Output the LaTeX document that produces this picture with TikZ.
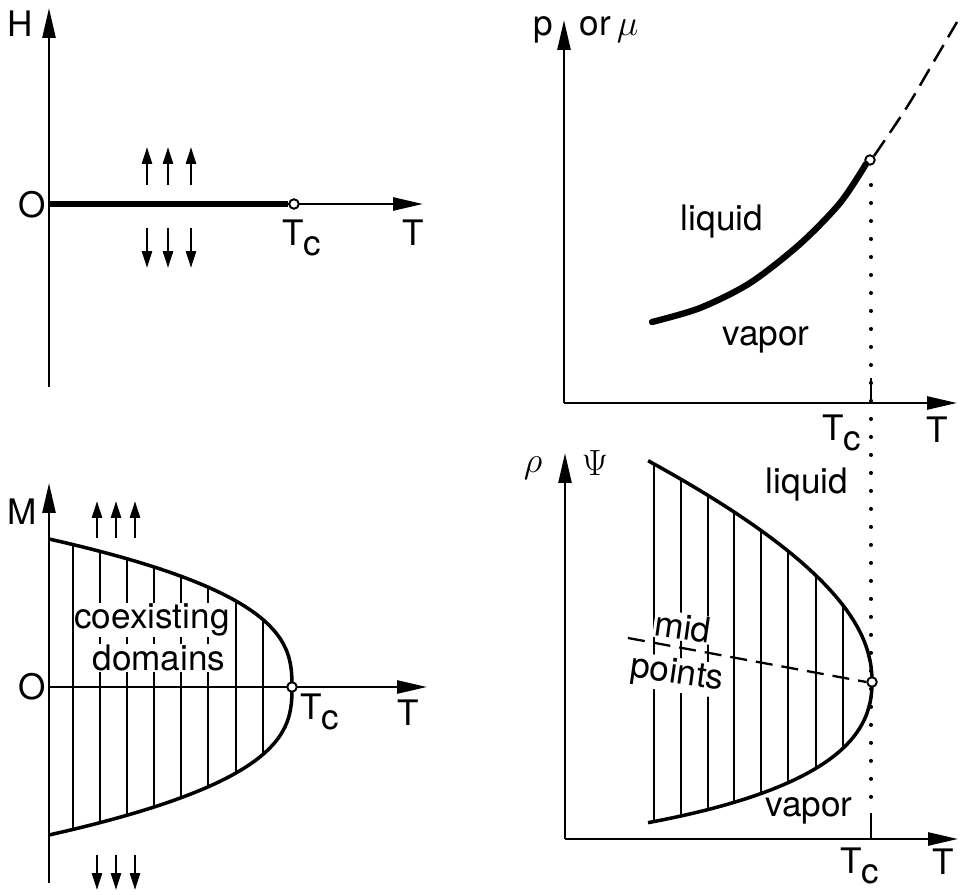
\documentclass[tikz,border=0pt]{standalone}
\usepackage{fontspec}
\setmainfont{TeX Gyre Heros}
\usetikzlibrary{arrows.meta}
\newcommand\Tcrit{T\kern-0.5pt\raisebox{-5.5pt}{c}}
\tikzset{
  axis/.style={line width=1.5pt,-{Triangle[length=6mm,width=2.6mm]}},   % axes
  spin/.style={line width=1.5pt,-{Triangle[length=3.4mm,width=2mm]}},    % spin arrows
  curve/.style={line width=2pt},
  bold/.style={line width=3.6pt},
  hatch/.style={line width=1.1pt},
  crit/.style={circle,draw=black,fill=white,line width=1.1pt,inner sep=0pt,minimum size=0.19cm}, % critical point
  extdash/.style={line width=1.4pt,dash pattern=on 0.38cm off 0.18cm},
  midline/.style={line width=1.3pt,dash pattern=on 0.34cm off 0.18cm},
  dotline/.style={line width=2.3pt,line cap=round,dash pattern=on 0pt off 0.36cm},
  tick/.style={line width=1.5pt},
  lbl/.style={font=\fontsize{20}{24}\selectfont,inner sep=1pt},
  blank/.style={lbl,fill=white,inner sep=0.5pt},
}
\begin{document}
\begin{tikzpicture}[x=0.02cm,y=-0.02cm]
  \useasboundingbox (0,0) rectangle (961,895);

  % H versus T
  \coordinate (hO) at (49,204);
  \coordinate (hTop) at (49,8);
  \coordinate (hBot) at (49,387);
  \coordinate (hEnd) at (423,204);
  \draw[axis] (hBot) -- (hTop);
  \draw[axis] (hO) -- (hEnd);
  \node[crit] (hC) at (294,204) {};
  \draw[bold] (hO) -- (hC.west);
  \foreach \x in {147,168,191}{
    \draw[spin] (\x,185) -- (\x,147);
    \draw[spin] (\x,228) -- (\x,268);
  }
  \node[lbl] (hH) at (20,24) {H};
  \node[lbl] (hZero) at (32,205) {O};
  \node[lbl] (hTc) at (302,238) {\Tcrit};
  \node[lbl] (hT) at (413,233) {T};

  % M versus T
  \coordinate (mO) at (49,687);
  \coordinate (mTop) at (49,483);
  \coordinate (mBot) at (49,883);
  \coordinate (mEnd) at (427,687);
  \draw[axis] (mBot) -- (mTop);
  \draw[axis] (mO) -- (mEnd);
  \foreach \x in {73,100,127,154,181,208,236,263}{
    \pgfmathsetmacro\h{148*pow((292-\x)/243,0.37)}
    \draw[hatch] (\x,{687-\h}) -- (\x,{687+\h});
  }
  \draw[curve] plot[domain=-1:1,samples=80,variable=\m]
    ({292-243*pow(abs(\m),2.7027)},{687-148*\m});
  \node[crit] (mC) at (292,687) {};
  \node[blank] (mCo) at (152,620) {coexisting};
  \node[blank] (mDo) at (159,658) {domains};
  \foreach \x in {97,116,135}{
    \draw[spin] (\x,538) -- (\x,501);
    \draw[spin] (\x,855) -- (\x,890);
  }
  \node[lbl] (mM) at (22,512) {M};
  \node[lbl] (mZero) at (32,687) {O};
  \node[lbl] (mTc) at (320,712) {\Tcrit};
  \node[lbl] (mT) at (408,713) {T};

  % p or mu versus T
  \coordinate (pO) at (564,403);
  \coordinate (pTop) at (564,20);
  \coordinate (pEnd) at (957,403);
  \draw[axis] (pO) -- (pTop);
  \draw[axis] (pO) -- (pEnd);
  \node[crit] (pC) at (870,160) {};
  \draw[bold,line cap=round] plot[smooth] coordinates
    {(652,322) (700,308) (750,283) (800,244) (840,203) (pC.225)};
  \draw[extdash] plot[smooth] coordinates {(pC.45) (907,107) (933,63) (957,22)};
  \node[lbl] (pP) at (543,30) {p};
  \node[lbl] (pMu) at (609,30) {or\,$\mu$};
  \node[lbl] (pLiq) at (722,222) {liquid};
  \node[lbl] (pVap) at (766,340) {vapor};
  \node[lbl] (pTc) at (842,433) {\Tcrit};
  \node[lbl] (pT) at (937,430) {T};

  % rho versus T
  \coordinate (rO) at (565,839);
  \coordinate (rTop) at (565,453);
  \coordinate (rEnd) at (958,839);
  \draw[axis] (rO) -- (rTop);
  \draw[axis] (rO) -- (rEnd);
  \foreach \x in {654,681,708,734,761,788,816,843}{
    \pgfmathsetmacro\h{181*pow((872-\x)/224,0.4545)}
    \pgfmathsetmacro\c{682-0.18*(872-\x)}
    \draw[hatch] (\x,{\c-\h}) -- (\x,{\c+\h});
  }
  \draw[curve] plot[domain=-1:1,samples=80,variable=\m]
    ({872-224*pow(abs(\m),2.2)},{682-0.18*224*pow(abs(\m),2.2)-181*\m});
  \node[blank,rotate=-8] (rMid) at (683,627) {mid};
  \node[blank,rotate=-8] (rPts) at (677,675) {points};
  \node[crit] (rC) at (872,682) {};
  \coordinate (rMidEnd) at (628,638);
  \draw[midline] (rMidEnd) -- (rC.west);
  \node[lbl] (rRho) at (533,468) {$\rho$};
  \node[lbl] (rPsi) at (595,463) {$\Psi$};
  \node[lbl] (rLiq) at (807,485) {liquid};
  \node[lbl] (rVap) at (809,811) {vapor};
  \node[lbl] (rTc) at (860,866) {\Tcrit};
  \node[lbl] (rT) at (943,862) {T};

  % critical temperature
  \coordinate (dTop) at (871,185);
  \coordinate (dBot) at (871,800);
  \draw[dotline] (dTop) -- (dBot);
  \draw[tick] (871,378) -- (pO -| 871,0);
  \draw[tick] (871,813) -- (rO -| 871,0);
\end{tikzpicture}
\end{document}
